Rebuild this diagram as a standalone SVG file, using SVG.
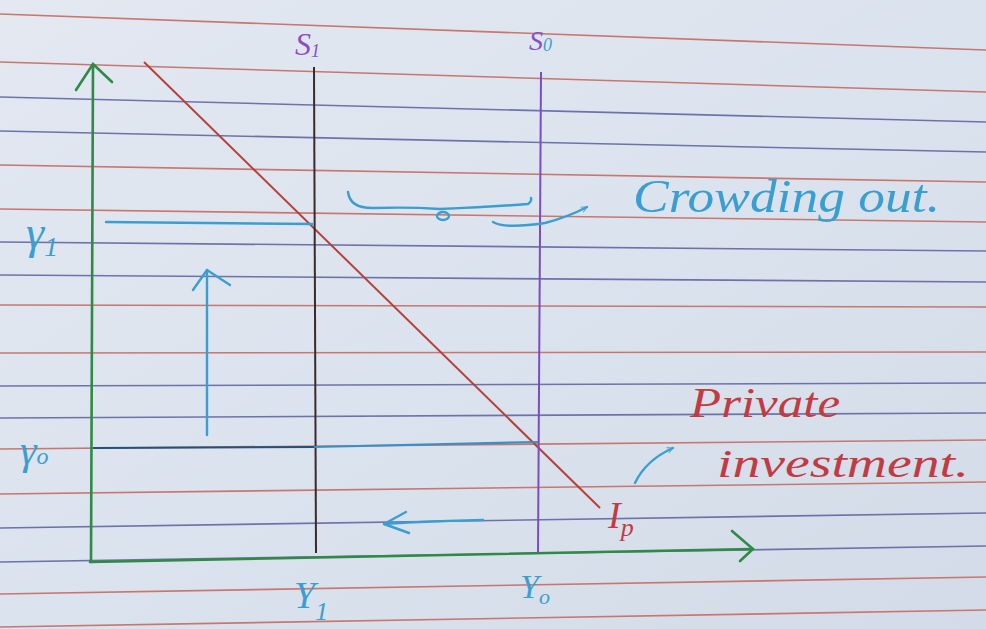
<svg xmlns="http://www.w3.org/2000/svg" width="986" height="629" viewBox="0 0 986 629">
  <defs>
    <linearGradient id="paper" x1="0" y1="0" x2="1" y2="1">
      <stop offset="0" stop-color="#e3e8f1"/>
      <stop offset="0.5" stop-color="#dbe3ee"/>
      <stop offset="1" stop-color="#d3dbe8"/>
    </linearGradient>
    <marker id="headBlue" viewBox="0 0 12 12" refX="11" refY="6" markerWidth="7" markerHeight="7" markerUnits="userSpaceOnUse" orient="auto">
      <path d="M1,1 L11,6 L1,11" fill="none" stroke="#3a9fd0" stroke-width="1.6"/>
    </marker>
  </defs>
  <style>
    .rule-red { stroke: #c9766f; stroke-width: 1.6; fill: none; }
    .rule-blue { stroke: #6d73a9; stroke-width: 1.6; fill: none; }
    .axis { stroke: #2f8a45; stroke-width: 2.6; fill: none; stroke-linecap: round; }
    .blue { stroke: #3a9fd0; stroke-width: 2.4; fill: none; stroke-linecap: round; stroke-linejoin: round; }
    .lbl { font-family: "Liberation Serif", "DejaVu Serif", serif; font-style: italic; }
    .lbl-blue { fill: #3a9fd0; }
    .lbl-red { fill: #c23b44; }
    .lbl-purple { fill: #8a4fc4; }
  </style>

  <rect x="0" y="0" width="986" height="629" fill="url(#paper)"/>

  <g id="ruled-paper">
    <line class="rule-red" x1="0" y1="14" x2="986" y2="50"/>
    <line class="rule-red" x1="0" y1="62" x2="986" y2="92"/>
    <line class="rule-blue" x1="0" y1="97" x2="986" y2="122"/>
    <line class="rule-blue" x1="0" y1="131" x2="986" y2="152"/>
    <line class="rule-red" x1="0" y1="165" x2="986" y2="182"/>
    <line class="rule-red" x1="0" y1="209" x2="986" y2="222"/>
    <line class="rule-blue" x1="0" y1="242" x2="986" y2="251"/>
    <line class="rule-blue" x1="0" y1="275" x2="986" y2="282"/>
    <line class="rule-red" x1="0" y1="305" x2="986" y2="307"/>
    <line class="rule-red" x1="0" y1="353" x2="986" y2="352"/>
    <line class="rule-blue" x1="0" y1="386" x2="986" y2="383"/>
    <line class="rule-blue" x1="0" y1="418" x2="986" y2="413"/>
    <line class="rule-red" x1="0" y1="449" x2="986" y2="440"/>
    <line class="rule-red" x1="0" y1="494" x2="986" y2="482"/>
    <line class="rule-blue" x1="0" y1="528" x2="986" y2="513"/>
    <line class="rule-blue" x1="0" y1="562" x2="986" y2="546"/>
    <line class="rule-red" x1="0" y1="594" x2="986" y2="577"/>
    <line class="rule-red" x1="0" y1="627" x2="986" y2="610"/>
  </g>

  <g id="axes">
    <path class="axis" d="M91,562 L93,65"/>
    <path class="axis" d="M76,90 L93,64 L112,82"/>
    <path class="axis" d="M90,562 L753,549"/>
    <path class="axis" d="M732,531 L753,549 L740,561"/>
  </g>

  <g id="curve-Ip">
    <line x1="144" y1="62" x2="600" y2="508" stroke="#b5413a" stroke-width="2"/>
  </g>

  <g id="curve-S1">
    <line x1="314" y1="67" x2="316" y2="553" stroke="#3b2a2a" stroke-width="2"/>
  </g>

  <g id="curve-S0">
    <line x1="541" y1="72" x2="538" y2="552" stroke="#7d4cc4" stroke-width="2"/>
  </g>

  <g id="level-r1">
    <line class="blue" x1="106" y1="222" x2="312" y2="224"/>
  </g>

  <g id="level-r0">
    <line x1="93" y1="448" x2="314" y2="447" stroke="#24507c" stroke-width="2.2"/>
    <line x1="314" y1="447" x2="538" y2="442" stroke="#3a8fc4" stroke-width="2.2"/>
  </g>

  <g id="connectors">
    <path class="blue" d="M207,435 L207,270"/>
    <path class="blue" d="M193,290 L207,270 L230,285"/>
    <path class="blue" d="M483,520 Q430,521 384,524"/>
    <path class="blue" d="M406,512 L384,524 L409,533"/>
    <path class="blue" d="M348,192 Q350,209 375,208 Q410,207 440,209 Q490,207 528,204 Q532,201 531,198"/>
    <ellipse cx="443" cy="216" rx="6" ry="4" class="blue"/>
    <path class="blue" d="M493,222 Q505,229 545,223 Q568,217 587,207" marker-end="url(#headBlue)"/>
    <path class="blue" d="M635,483 Q646,460 673,448" marker-end="url(#headBlue)"/>
  </g>

  <g id="label-S1">
    <text class="lbl lbl-purple" x="295" y="55" font-size="32">S<tspan font-size="18" dy="2">1</tspan></text>
  </g>
  <g id="label-S0">
    <text class="lbl lbl-purple" x="529" y="50" font-size="28">S<tspan class="lbl-blue" font-size="18" dy="1">0</tspan></text>
  </g>
  <g id="label-r1">
    <text class="lbl lbl-blue" x="26" y="248" font-size="46">γ<tspan font-size="28" dy="8">1</tspan></text>
  </g>
  <g id="label-r0">
    <text class="lbl lbl-blue" x="20" y="464" font-size="42">γ<tspan font-size="24" dy="0">o</tspan></text>
  </g>
  <g id="label-Y1">
    <text class="lbl lbl-blue" x="294" y="608" font-size="38">Y<tspan font-size="26" dy="12">1</tspan></text>
  </g>
  <g id="label-Y0">
    <text class="lbl lbl-blue" x="520" y="598" font-size="34">Y<tspan font-size="22" dy="6">o</tspan></text>
  </g>
  <g id="label-Ip">
    <text class="lbl lbl-red" x="608" y="528" font-size="38">I<tspan font-size="26" dy="8">p</tspan></text>
  </g>
  <g id="label-crowding">
    <text class="lbl lbl-blue" x="633" y="212" font-size="46" textLength="307" lengthAdjust="spacingAndGlyphs">Crowding out.</text>
  </g>
  <g id="label-private">
    <text class="lbl lbl-red" x="690" y="417" font-size="42" textLength="150" lengthAdjust="spacingAndGlyphs">Private</text>
    <text class="lbl lbl-red" x="717" y="477" font-size="40" textLength="252" lengthAdjust="spacingAndGlyphs">investment.</text>
  </g>
</svg>
